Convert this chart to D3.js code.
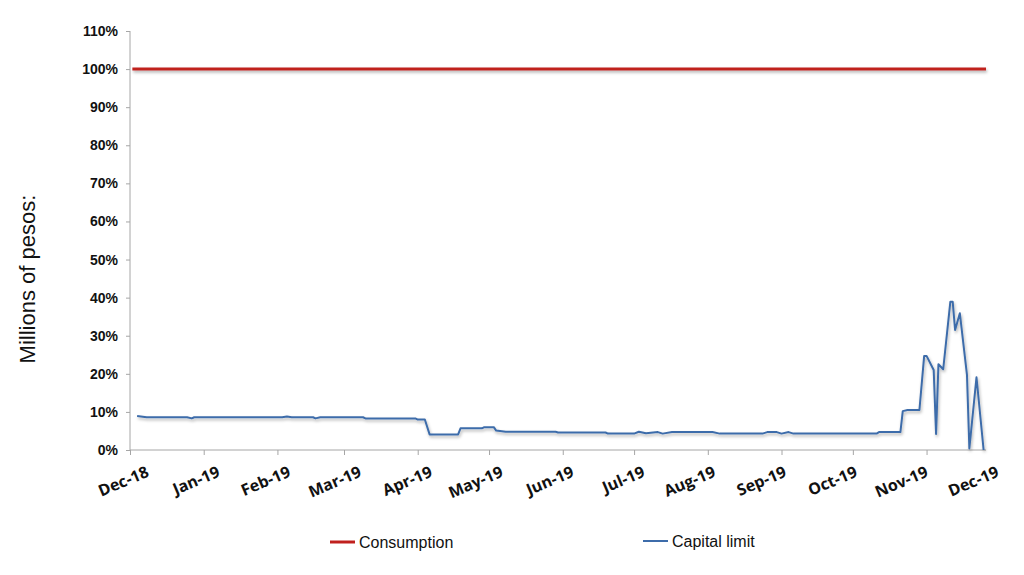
<!DOCTYPE html>
<html>
<head>
<meta charset="utf-8">
<script src="https://cdn.jsdelivr.net/npm/d3@7"></script>
<style>
	body { margin: 0; background: #fff; }
	.y-axis text { font-family: "Liberation Sans", Arial, sans-serif; font-weight: bold; font-size: 14px; fill: #111; }
	.month-label { font-family: "Open Sans", sans-serif; font-weight: 700; font-size: 16px; fill: #111; }
	.axis path, .axis line { stroke: #a6a6a6; }
	.legend text { font-family: "Liberation Sans", Arial, sans-serif; font-size: 16px; fill: #111; }
</style>
</head>
<body>
<div id="chart"></div>
<script>
// series data (share of consumption)
var consumptionDates = ["2018-12-02", "2019-11-26"];
var consumptionValues = [1.0, 1.0];

var capitalDates = [
	"2018-12-04", "2018-12-08", "2018-12-25", "2018-12-27", "2018-12-28",
	"2019-02-03", "2019-02-05", "2019-02-07", "2019-02-16", "2019-02-17",
	"2019-02-19", "2019-03-09", "2019-03-10", "2019-03-31", "2019-04-01",
	"2019-04-04", "2019-04-06", "2019-04-18", "2019-04-19", "2019-04-28",
	"2019-04-29", "2019-05-03", "2019-05-04", "2019-05-08", "2019-05-29",
	"2019-05-30", "2019-06-19", "2019-06-20", "2019-07-01", "2019-07-03",
	"2019-07-06", "2019-07-11", "2019-07-13", "2019-07-17", "2019-08-03",
	"2019-08-06", "2019-08-24", "2019-08-26", "2019-08-30", "2019-09-01",
	"2019-09-04", "2019-09-06", "2019-10-11", "2019-10-12", "2019-10-21",
	"2019-10-22", "2019-10-24", "2019-10-29", "2019-10-31", "2019-11-01",
	"2019-11-04", "2019-11-05", "2019-11-06", "2019-11-08", "2019-11-11",
	"2019-11-12", "2019-11-13", "2019-11-15", "2019-11-18", "2019-11-19",
	"2019-11-22", "2019-11-25"
];
var capitalValues = [
	0.089, 0.086, 0.086, 0.083, 0.086,
	0.086, 0.088, 0.086, 0.086, 0.083,
	0.086, 0.086, 0.083, 0.083, 0.080,
	0.080, 0.041, 0.041, 0.057, 0.057,
	0.060, 0.060, 0.051, 0.048, 0.048,
	0.046, 0.046, 0.043, 0.043, 0.048,
	0.044, 0.047, 0.043, 0.047, 0.047,
	0.043, 0.043, 0.047, 0.047, 0.043,
	0.047, 0.043, 0.043, 0.047, 0.047,
	0.102, 0.105, 0.105, 0.247, 0.247,
	0.210, 0.042, 0.225, 0.212, 0.389,
	0.389, 0.315, 0.359, 0.197, 0.004,
	0.191, 0.0
];

var monthLabels = ["Dec-18", "Jan-19", "Feb-19", "Mar-19", "Apr-19", "May-19", "Jun-19",
	"Jul-19", "Aug-19", "Sep-19", "Oct-19", "Nov-19", "Dec-19"];
var yTicks = [0, 0.1, 0.2, 0.3, 0.4, 0.5, 0.6, 0.7, 0.8, 0.9, 1.0, 1.1];

var parseDate = d3.timeParse("%Y-%m-%d");

var width = 1024, height = 575;

var svg = d3.select("#chart")
	.append("svg")
	.attr("width", width)
	.attr("height", height);

// soft shadow under the lines (user space, so flat lines still render)
var filter = svg.append("defs").append("filter")
	.attr("id", "shadow")
	.attr("filterUnits", "userSpaceOnUse")
	.attr("x", 0).attr("y", 0)
	.attr("width", width).attr("height", height);
filter.append("feDropShadow")
	.attr("dx", 1).attr("dy", 2)
	.attr("stdDeviation", 1.5)
	.attr("flood-color", "#000")
	.attr("flood-opacity", 0.3);

// scales
var x = d3.scaleTime()
	.domain([parseDate("2018-12-01"), parseDate("2019-11-26")])
	.range([130, 986]);

var y = d3.scaleLinear()
	.domain([0, 1.1])
	.range([450, 31]);

// Excel spaces the month labels a little tighter than the ticks
var labelX = d3.scalePoint()
	.domain(monthLabels)
	.range([150, 1000]);

// axes
var yAxis = d3.axisLeft(y)
	.tickValues(yTicks)
	.tickSize(4)
	.tickPadding(8)
	.tickFormat(d3.format(".0%"));

svg.append("g")
	.attr("class", "axis y-axis")
	.attr("transform", "translate(130,0)")
	.call(yAxis)
	.call((g) => g.select(".domain").attr("d", "M0," + y(1.1) + "V" + y(0)));

var monthDates = d3.timeMonth.range(parseDate("2018-12-01"), parseDate("2019-11-02"));

var xAxis = d3.axisBottom(x)
	.tickValues(monthDates)
	.tickSize(5)
	.tickFormat("");

var xg = svg.append("g")
	.attr("class", "axis x-axis")
	.attr("transform", "translate(0,450)")
	.call(xAxis);

xg.select(".domain").attr("d", "M" + x.range()[0] + ",0H" + x.range()[1]);

svg.append("g")
	.selectAll(".month-label")
	.data(monthLabels)
	.enter()
	.append("text")
	.attr("class", "month-label")
	.attr("text-anchor", "end")
	.attr("transform", (d) => "translate(" + labelX(d) + ",476) rotate(-23)")
	.text((d) => d);

// y axis title
svg.append("text")
	.attr("transform", "translate(35,279) rotate(-90)")
	.attr("text-anchor", "middle")
	.style("font-family", "'Liberation Sans', Arial, sans-serif")
	.style("font-size", "22px")
	.attr("fill", "#111")
	.text("Millions of pesos:");

// lines
var line = d3.line()
	.x((d) => x(d.date))
	.y((d) => y(d.value));

var consumption = consumptionDates.map((d, i) => ({ date: parseDate(d), value: consumptionValues[i] }));
var capital = capitalDates.map((d, i) => ({ date: parseDate(d), value: capitalValues[i] }));

svg.append("path")
	.datum(capital)
	.attr("d", line)
	.attr("fill", "none")
	.attr("stroke", "#3d6caa")
	.attr("stroke-width", 2)
	.attr("stroke-linejoin", "round")
	.attr("filter", "url(#shadow)");

svg.append("path")
	.datum(consumption)
	.attr("d", line)
	.attr("fill", "none")
	.attr("stroke", "#c0201e")
	.attr("stroke-width", 3)
	.attr("filter", "url(#shadow)");

// legend
var legendItems = [
	{ name: "Consumption", color: "#c0201e", width: 3, x: 330, y: 542 },
	{ name: "Capital limit", color: "#3d6caa", width: 2, x: 643, y: 541 }
];

var legend = svg.append("g").attr("class", "legend");

var items = legend.selectAll(".item")
	.data(legendItems)
	.enter()
	.append("g")
	.attr("class", "item")
	.attr("transform", (d) => "translate(" + d.x + "," + d.y + ")");

items.append("line")
	.attr("x1", 0).attr("x2", 25)
	.attr("stroke", (d) => d.color)
	.attr("stroke-width", (d) => d.width);

items.append("text")
	.attr("x", 29)
	.attr("y", 6)
	.text((d) => d.name);
</script>
</body>
</html>
